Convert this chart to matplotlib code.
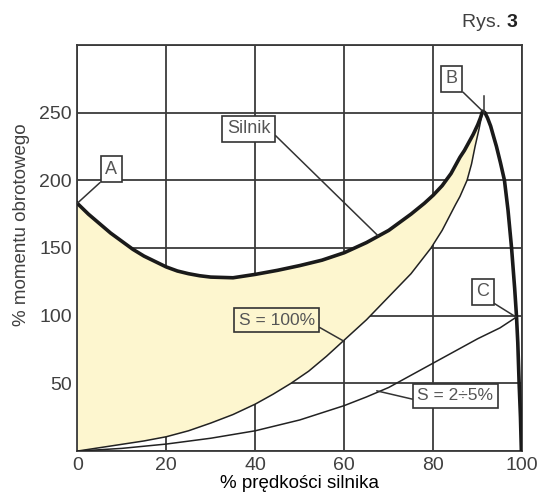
import numpy as np
import matplotlib
matplotlib.use("Agg")
import matplotlib.pyplot as plt
from matplotlib import rcParams

rcParams.update({
    "font.family": ["Liberation Sans", "DejaVu Sans"],
    "text.color": "#404040",
    "xtick.color": "#404040",
    "ytick.color": "#404040",
})

# ── Data ─────────────────────────────────────────────────────────────────────
# motor torque curve ("Silnik"), % speed vs % torque
motor_speed = [0, 2.5, 5, 7.5, 10, 12.5, 15, 17.5, 20, 22.5, 25, 27.5, 30,
               35, 40, 45, 50, 55, 60, 65, 70, 75, 78, 80, 82, 84, 86, 87,
               88, 89, 90, 90.6, 91.1, 91.6, 92.2, 92.9, 93.5, 94.2, 95.1,
               96.0, 96.8, 97.6, 98.3, 98.7, 99.0, 99.3, 99.6, 99.8]
motor_torque = [183, 175, 168, 161, 155, 149, 144, 140, 136, 133, 131, 129.5,
                128.5, 128, 130.5, 133.5, 137, 141, 146.5, 154, 163, 175, 183,
                189, 196, 205, 217, 222, 228, 234, 241, 246, 251, 250, 246,
                240, 233, 225, 213, 200, 178, 150, 120, 100, 80, 50, 25, 0]

# load curve S=100%
load100_speed = [0, 5, 10, 15, 20, 25, 30, 35, 40, 44, 48, 52, 56, 60, 65,
                 70, 75, 79.5, 82, 85, 86, 87.6, 88.6, 89.4, 90.3, 91.1]
load100_torque = [0, 2.5, 5, 7.5, 10.6, 15, 20.7, 27, 34.7, 42, 50, 59, 70,
                  82, 97, 114, 131, 150, 163, 182, 188, 200, 212, 225, 238,
                  251]

# load curve S=2÷5%
load5_speed = [0, 10, 20, 30, 40, 50, 60, 65, 70, 75, 80, 85, 90, 95, 98.7]
load5_torque = [0, 2, 5.2, 9.5, 15, 23, 33.6, 40, 47, 56, 65, 74, 83, 91, 99]

x_ticks = [0, 20, 40, 60, 80, 100]
x_ticklabels = ["0", "20", "40", "60", "80", "100"]
y_ticks = [0, 50, 100, 150, 200, 250, 300]
y_ticklabels = ["", "50", "100", "150", "200", "250", ""]

# ── Figure ───────────────────────────────────────────────────────────────────
fig = plt.figure(figsize=(5.48, 4.93), dpi=100)
ax = fig.add_axes([0.141, 0.085, 0.812, 0.824])

ax.set_xlim(0, 100)
ax.set_ylim(0, 300)

grid_col = "#3a3a3a"
ax.set_xticks(x_ticks)
ax.set_xticklabels(x_ticklabels, fontsize=14)
ax.set_yticks(y_ticks)
ax.set_yticklabels(y_ticklabels, fontsize=14)
ax.tick_params(length=0, pad=4)
ax.grid(True, color=grid_col, linewidth=1.3)
ax.set_axisbelow(True)
for sp in ax.spines.values():
    sp.set_color(grid_col)
    sp.set_linewidth(1.3)

# shaded area between motor curve (up to the peak) and S=100% curve
n_peak = motor_speed.index(91.1) + 1
poly_x = np.concatenate([motor_speed[:n_peak], load100_speed[::-1]])
poly_y = np.concatenate([motor_torque[:n_peak], load100_torque[::-1]])
ax.fill(poly_x, poly_y, color="#fdf6cf", zorder=1, lw=0)

ax.plot(load100_speed, load100_torque, color="#222222", lw=1.1, zorder=3)
ax.plot(load5_speed, load5_torque, color="#222222", lw=1.1, zorder=3)
ax.plot(motor_speed, motor_torque, color="#1a1a1a", lw=2.6, zorder=4,
        solid_joinstyle="round")

# small tick above the breakdown point
ax.plot([91.5, 91.5], [250, 262.5], color="#333333", lw=1.1, zorder=4)

# ── Labels in boxes with leader lines ────────────────────────────────────────
def boxed(text, xy, xytext, relpos, face="white", size=13):
    ax.annotate(
        text, xy=xy, xytext=xytext, fontsize=size, color="#555555",
        ha="center", va="center", zorder=6,
        bbox=dict(boxstyle="square,pad=0.25", fc=face, ec="#333333", lw=1.2),
        arrowprops=dict(arrowstyle="-", color="#333333", lw=1.1,
                        shrinkA=0, shrinkB=0, relpos=relpos),
    )

boxed("A", (0, 183), (7.6, 208), (0, 0))
boxed("B", (91.1, 251), (84.2, 275), (1, 0))
boxed("C", (98.6, 99), (91.1, 117.7), (1, 0))
boxed("Silnik", (67.6, 159), (38.5, 238), (1, 0.4))
boxed("S = 100%", (60, 81), (44.8, 96.7), (1, 0.2), face="#fdf6cf", size=12.5)
boxed("S = 2÷5%", (67.3, 44.5), (85.0, 40.8), (0, 0.2), size=12.5)

ax.set_xlabel("% prędkości silnika", fontsize=13.5, labelpad=1)
fig.text(0.040, 0.545, "% momentu obrotowego", rotation=90, fontsize=13.5,
         ha="center", va="center")

rys = fig.text(0.843, 0.955, "Rys. ", fontsize=14, ha="left", va="center")
ax.annotate("3", xy=(1, 0.5), xycoords=rys, fontsize=14, fontweight="bold",
            ha="left", va="center", color="#222222")

fig.savefig("out.png", dpi=100)
